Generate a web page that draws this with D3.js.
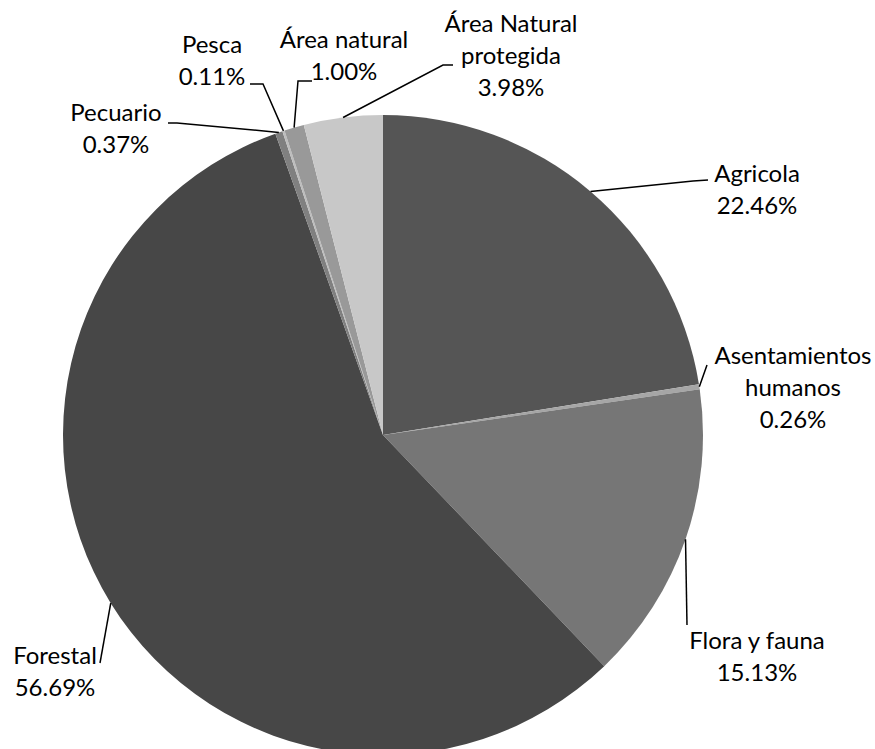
<!DOCTYPE html>
<html>
<head>
<meta charset="utf-8">
<script src="https://cdn.jsdelivr.net/npm/d3@7"></script>
<style>
  body { margin: 0; background: #fff; }
  text { font-family: Lato, "Open Sans", sans-serif; font-size: 24px; fill: #000; }
</style>
</head>
<body>
<div id="chart"></div>
<script>
// data
var categories = ["Agricola", "Asentamientos humanos", "Flora y fauna", "Forestal",
                  "Pecuario", "Pesca", "Área natural", "Área Natural protegida"];
var values = [22.46, 0.26, 15.13, 56.69, 0.37, 0.11, 1.00, 3.98];
var labelLines = [
  ["Agricola"],
  ["Asentamientos", "humanos"],
  ["Flora y fauna"],
  ["Forestal"],
  ["Pecuario"],
  ["Pesca"],
  ["Área natural"],
  ["Área Natural", "protegida"]
];
var colors = ["#555555", "#a6a6a6", "#767676", "#474747", "#808080", "#bdbdbd", "#999999", "#c8c8c8"];

// label layout (center x, first line y, leader bend points)
var labelPos = [
  { x: 757, y: 174, leader: [[693, 181], [708, 180]] },
  { x: 793, y: 356, leader: [[707, 365]] },
  { x: 757, y: 641, leader: [[687, 625]] },
  { x: 55, y: 656, leader: [[100, 663]] },
  { x: 116, y: 113, leader: [[177, 123], [168, 123]] },
  { x: 212, y: 45, leader: [[263, 84], [250, 84]] },
  { x: 344, y: 40, leader: [[298, 81], [312, 81]] },
  { x: 511, y: 24, leader: [[443, 65], [453, 65]] }
];

var svgWidth = 875;
var svgHeight = 749;
var radius = 320;
var cx = 383, cy = 435;
var lineH = 32;

var svg = d3.select("#chart")
  .append("svg")
  .attr("width", svgWidth)
  .attr("height", svgHeight);

var data = categories.map(function(c, i) {
  return { name: c, value: values[i], idx: i };
});

var pie = d3.pie()
  .sort(null)
  .value(d => d.value);

var arc = d3.arc()
  .innerRadius(0)
  .outerRadius(radius);

var g = svg.append("g")
  .attr("transform", `translate(${cx}, ${cy})`);

var arcs = pie(data);

g.selectAll("path.slice")
  .data(arcs)
  .enter()
  .append("path")
  .attr("class", "slice")
  .attr("d", arc)
  .attr("fill", d => colors[d.data.idx]);

// leader lines
svg.selectAll("path.leader")
  .data(arcs)
  .enter()
  .append("path")
  .attr("class", "leader")
  .attr("fill", "none")
  .attr("stroke", "#000")
  .attr("stroke-width", 1.5)
  .attr("d", function(d) {
    var a = (d.startAngle + d.endAngle) / 2;
    var start = [cx + radius * Math.sin(a), cy - radius * Math.cos(a)];
    var pts = [start].concat(labelPos[d.data.idx].leader);
    return d3.line()(pts);
  });

// labels
var labels = svg.selectAll("text.lbl")
  .data(arcs)
  .enter()
  .append("text")
  .attr("class", "lbl")
  .attr("text-anchor", "middle");

labels.each(function(d) {
  var t = d3.select(this);
  var p = labelPos[d.data.idx];
  var lines = labelLines[d.data.idx].concat([d.data.value.toFixed(2) + "%"]);
  lines.forEach(function(l, k) {
    t.append("tspan")
      .attr("x", p.x)
      .attr("y", p.y + k * lineH)
      .attr("dy", "0.35em")
      .text(l);
  });
});
</script>
</body>
</html>
